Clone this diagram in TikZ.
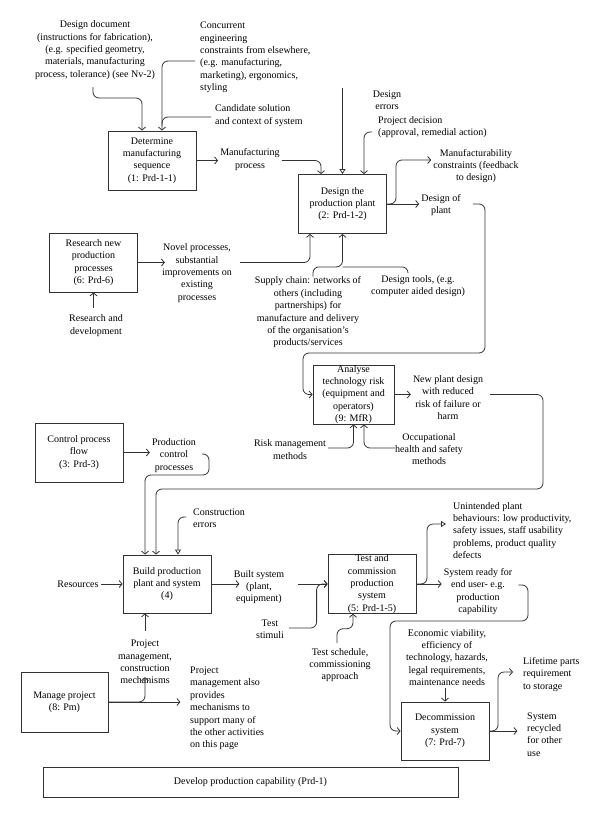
\documentclass[tikz,border=0pt]{standalone}
\usepackage{fontspec}
\setmainfont{Liberation Serif}
\usetikzlibrary{arrows.meta}
\begin{document}
\begin{tikzpicture}[x=1pt,y=-1pt,
  every node/.style={font=\fontsize{10}{12.4}\selectfont, inner sep=2pt, align=center},
  box/.style={draw=black!80, line width=0.8pt, inner sep=0pt, minimum width=88pt, minimum height=59pt},
  flow/.style={draw=black!80, line width=0.8pt, rounded corners=6pt, -{Straight Barb[length=3pt,width=7pt]}},
  link/.style={draw=black!80, line width=0.8pt, rounded corners=6pt},
  ctrl/.style={draw=black!80, line width=0.8pt, rounded corners=6pt, -{Triangle[open,length=5pt,width=6pt]}}]
\useasboundingbox (0,0) rectangle (600,818);

\node[box] (seq) at (152,160.5) {Determine\\manufacturing\\sequence\\(1: Prd-1-1)};
\node[box] (plant) at (342.5,204) {Design the\\production plant\\(2: Prd-1-2)};
\node[box] (research) at (93.5,262.5) {Research new\\production\\processes\\(6: Prd-6)};
\node[box, minimum width=81pt] (risk) at (353.5,394.5) {Analyse\\technology risk\\(equipment and\\operators)\\(9: MfR)};
\node[box] (control) at (79,452.5) {Control process\\flow\\(3: Prd-3)};
\node[box, minimum height=58pt] (build) at (167,584) {Build production\\plant and system\\(4)};
\node[box, minimum height=58pt] (test) at (372,584) {Test and\\commission\\production\\system\\(5: Prd-1-5)};
\node[box, minimum height=58pt] (decom) at (445,731) {Decommission\\system\\(7: Prd-7)};
\node[box, minimum width=87pt, minimum height=60pt] (manage) at (64.5,702) {Manage project\\(8: Pm)};
\node[box, minimum width=415pt, minimum height=30pt, line width=0.9pt] (develop) at (250.5,782) {Develop production capability (Prd-1)};

\node (dd) at (95,50) {Design document\\(instructions for fabrication),\\(e.g. specified geometry,\\materials, manufacturing\\process, tolerance) (see Nv-2)};
\node[anchor=west, align=left] (ce) at (198,57.5) {Concurrent\\engineering\\constraints from elsewhere,\\(e.g. manufacturing,\\marketing), ergonomics,\\styling};
\node[anchor=west, align=left] (cs) at (213,115.5) {Candidate solution\\and context of system};
\node (mp) at (250,159.5) {Manufacturing\\process};
\node (de) at (387,100) {Design\\errors};
\node[anchor=west, align=left] (pd) at (376,127) {Project decision\\(approval, remedial action)};
\node (mc) at (476,166) {Manufacturability\\constraints (feedback\\to design)};
\node (dp) at (441,205) {Design of\\plant};
\node (np) at (197,273) {Novel processes,\\substantial\\improvements on\\existing\\processes};
\node (rd) at (96,325.5) {Research and\\development};
\node (sc) at (308,312.5) {Supply chain: networks of\\others (including\\partnerships) for\\manufacture and delivery\\of the organisation’s\\products/services};
\node (dt) at (418,286) {Design tools, (e.g.\\computer aided design)};
\node (nd) at (448,397.5) {New plant design\\with reduced\\risk of failure or\\harm};
\node (rm) at (290,449.5) {Risk management\\methods};
\node (oh) at (429,449) {Occupational\\health and safety\\methods};
\node (pc) at (174,455.5) {Production\\control\\processes};
\node[anchor=west, align=left] (cer) at (191,518) {Construction\\errors};
\node (res) at (78,584) {Resources};
\node (bs) at (259,587) {Built system\\(plant,\\equipment)};
\node (ts) at (270,629) {Test\\stimuli};
\node (tsc) at (340,665) {Test schedule,\\commissioning\\approach};
\node[anchor=west, align=left] (ub) at (451,530.5) {Unintended plant\\behaviours: low productivity,\\safety issues, staff usability\\problems, product quality\\defects};
\node (sr) at (478,591.5) {System ready for\\end user- e.g.\\production\\capability};
\node (ev) at (447,657.5) {Economic viability,\\efficiency of\\technology, hazards,\\legal requirements,\\maintenance needs};
\node[anchor=west, align=left] (lp) at (521,674.5) {Lifetime parts\\requirement\\to storage};
\node[anchor=west, align=left] (sy) at (525,734.5) {System\\recycled\\for other\\use};
\node (pm) at (145,662) {Project\\management,\\construction\\mechanisms};
\node[anchor=west, align=left] (pa) at (188,708.5) {Project\\management also\\provides\\mechanisms to\\support many of\\the other activities\\on this page};

\draw[flow] (dd.south) ++(-2,5.5) |- (142,98) -- ([xshift=-10pt]seq.north);
\draw[flow] (ce.west) ++(-3,3.5) -| ([xshift=10pt]seq.north);
\draw[link] (cs.west) ++(-2,1.5) -| ([xshift=10pt,yshift=5pt]seq.north);
\draw[flow] (seq.east) -- (seq.east -| mp.west);
\draw[flow] (mp.east |- seq.east) -| ([xshift=-21.5pt]plant.north);
\draw[ctrl] (plant.north |- de.north) -- (plant.north);
\draw[flow] (pd.west) ++(-4,5) -| ([xshift=21.5pt]plant.north);
\draw[flow] (plant.east) -- (plant.east -| dp.west);
\draw[flow] (plant.east) -| (396,160) -- ([yshift=6pt]mc.west);
\draw[flow] (dp.east) ++(10,-1) -| (485,353) -| (303,394.5) -- (risk.west);
\draw[flow] (research.east) -- ([xshift=27pt]research.east);
\draw[flow] (np.east |- research.east) ++(6,0) -| ([xshift=-32.5pt]plant.south);
\draw[flow] (rd.north -| research.south) ++(0,-5) -- (research.south);
\draw[flow] (sc.north) ++(5,2) |- ([yshift=-33pt]plant.south) -- (plant.south);
\draw[link] (dt.north) ++(-10,0) |- ([yshift=-33pt]plant.south);
\draw[flow] (risk.east) -- (risk.east -| nd.west);
\draw[flow] (nd.east |- risk.east) ++(5,0) -| (543,489) -| ([xshift=-11pt]build.north);
\draw[flow] (rm.east) ++(0,-1.5) -| (risk.south);
\draw[flow] (oh.west) ++(2,-1) -| ([xshift=10.5pt]risk.south);
\draw[flow] (control.east) -- (control.east -| pc.west);
\draw[flow] (pc.east) ++(4,-1.5) -| (209,475) -| ([xshift=-22pt]build.north);
\draw[ctrl] (cer.west) ++(-5,-1) -| ([xshift=11pt]build.north);
\draw[flow] (res.east) -- (build.west);
\draw[flow] (build.east) -- ([xshift=28pt]build.east);
\draw[flow] (bs.east |- build.east) ++(12,0) -- (test.west);
\draw[flow] (ts.east) ++(3,-1) -| ([xshift=-11pt]test.west) -- (test.west);
\draw[flow] (tsc.north) ++(-3,-3) |- ([xshift=-19pt,yshift=-15pt]test.south) -- ([xshift=-19pt]test.south);
\draw[flow] (test.east) -- (test.east -| sr.west);
\draw[ctrl] (test.east) -| (427,524) -- ([xshift=-5pt,yshift=6.5pt]ub.west);
\draw[flow] (sr.east) ++(4,-6.5) -| (528,621) -| (390,731) -- (decom.west);
\draw[flow] (ev.south -| decom.north) -- (decom.north);
\draw[flow] (decom.east) -- ([xshift=28pt]decom.east);
\draw[flow] (decom.east) -| (498,672) -- ([xshift=-8pt,yshift=2.5pt]lp.west);
\draw[flow] (pm.north) ++(0,-7) -- ([xshift=-22pt]build.south);
\draw[flow] (manage.east) -- ([xshift=72pt]manage.east);
\draw[flow] (manage.east) -| ([yshift=9pt]pm.south);
\end{tikzpicture}
\end{document}
